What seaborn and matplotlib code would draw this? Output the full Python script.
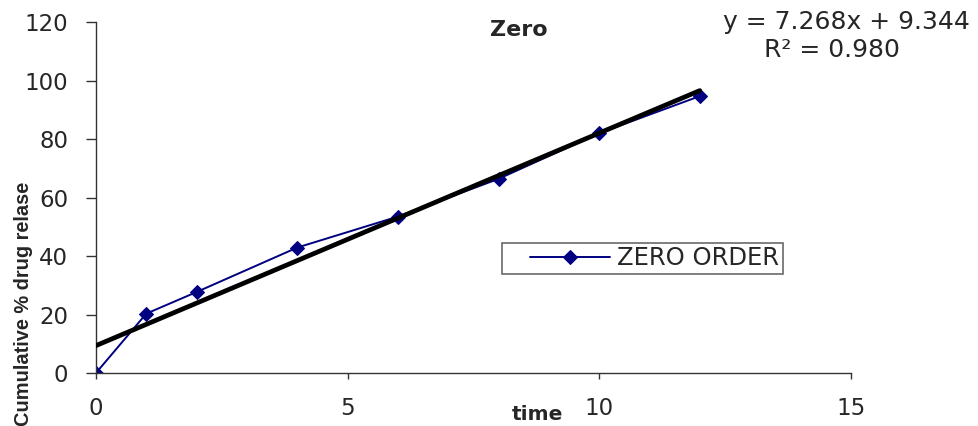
import numpy as np
import pandas as pd
import matplotlib
matplotlib.use("Agg")
import matplotlib.pyplot as plt
from matplotlib.lines import Line2D
from matplotlib.legend_handler import HandlerLine2D
from matplotlib import font_manager
import seaborn as sns

# release data
time = [0, 1, 2, 4, 6, 8, 10, 12]
release = [0, 20.3, 27.7, 42.9, 53.5, 66.4, 82.0, 94.7]
series_name = "ZERO ORDER"
x_ticks = [0, 5, 10, 15]
y_ticks = [0, 20, 40, 60, 80, 100, 120]

df = pd.DataFrame({"time": time, "release": release, "series": series_name})

sns.set_style("white")
plt.rcParams["font.family"] = ["DejaVu Sans"]

# narrow bold font for the rotated y label, if it is there
names = {f.name for f in font_manager.fontManager.ttflist}
if "Liberation Sans Narrow" in names:
    ylab_font, ylab_size = "Liberation Sans Narrow", 17.5
else:
    ylab_font, ylab_size = "Liberation Sans", 14.4

fig = plt.figure(figsize=(9.79, 4.26), dpi=100)
ax = fig.add_axes([0.098, 0.1244, 0.771, 0.8236])

# linear trend line (black, thick)
sns.regplot(data=df, x="time", y="release", scatter=False, ci=None, ax=ax,
            line_kws={"color": "black", "linewidth": 3.4, "zorder": 3})

# data series
sns.lineplot(data=df, x="time", y="release", hue="series", palette=["#000080"],
             marker="D", markersize=7.5, markeredgecolor="#000080", linewidth=1.4,
             ax=ax, zorder=2)

ax.set_xlim(0, 15)
ax.set_ylim(0, 120)
ax.set_xticks(x_ticks)
ax.set_yticks(y_ticks)
ax.set_xlabel("")
ax.set_ylabel("")
for s in ["top", "right"]:
    ax.spines[s].set_visible(False)
for s in ["left", "bottom"]:
    ax.spines[s].set_color("#333333")
    ax.spines[s].set_linewidth(1.0)
ax.tick_params(axis="y", direction="out", length=7, width=1, color="#333333",
               labelsize=16.5, pad=13, left=True)
ax.tick_params(axis="x", direction="out", length=4.5, width=1, color="#333333",
               labelsize=16.5, pad=13, bottom=True)

leg = ax.legend(loc="center", bbox_to_anchor=(0.656, 0.394), bbox_transform=fig.transFigure,
                fontsize=17.5, frameon=True, fancybox=False, handlelength=4.3,
                borderpad=0.15, handletextpad=0.3, borderaxespad=0,
                handler_map={Line2D: HandlerLine2D(xpad=1.0)})
leg.get_frame().set_edgecolor("#444444")
leg.get_frame().set_linewidth(1.2)
leg.set_title(None)

fig.text(0.530, 0.93, "Zero", fontsize=16, fontweight="bold", ha="center", va="center")
fig.text(0.865, 0.948, "y = 7.268x + 9.344", fontsize=18, ha="center", va="center")
fig.text(0.850, 0.883, "R² = 0.980", fontsize=18, ha="center", va="center")
fig.text(0.0245, 0.573, "Cumulative % drug relase", fontsize=ylab_size, fontweight="bold",
         family=ylab_font, rotation=90, ha="center", va="top")
fig.text(0.5485, 0.028, "time", fontsize=14.5, fontweight="bold", ha="center", va="center")

fig.savefig("out.png", dpi=100)
